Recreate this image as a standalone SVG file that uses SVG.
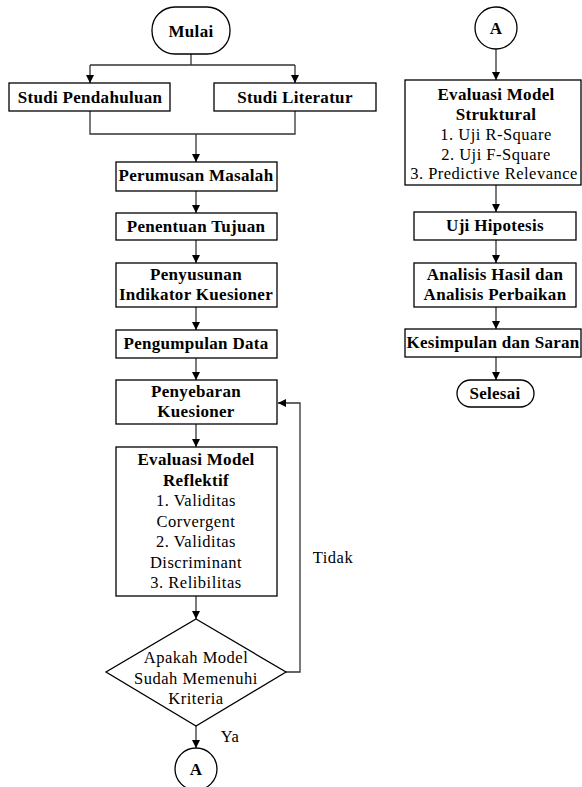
<svg xmlns="http://www.w3.org/2000/svg" width="582" height="787" viewBox="0 0 582 787">
<style>
.box{fill:#fff;stroke:#000;stroke-width:1.3}
.ln{fill:none;stroke:#333;stroke-width:1.3}
text{font-family:'Liberation Serif','Times New Roman',Times,'DejaVu Serif',serif;text-anchor:middle;fill:#000}
.b{font-weight:bold;font-size:17px;letter-spacing:0.3px}
.r{font-weight:normal;font-size:16.5px;letter-spacing:0.5px}
</style>
<defs>
<marker id="ah" viewBox="0 0 10 10" refX="10" refY="5" markerWidth="8" markerHeight="9" markerUnits="userSpaceOnUse" orient="auto">
<path d="M0,0 L10,5 L0,10 z" fill="#000"/>
</marker>
</defs>
<rect width="582" height="787" fill="#fff"/>
<g id="connectors">
<path class="ln" d="M191,54 V65 M90,65 H295" />
<path class="ln" d="M90,65 V83" marker-end="url(#ah)"/>
<path class="ln" d="M295,65 V83" marker-end="url(#ah)"/>
<path class="ln" d="M90,111 V134 H295 V111"/>
<path class="ln" d="M196,134 V162" marker-end="url(#ah)"/>
<path class="ln" d="M196,191 V213" marker-end="url(#ah)"/>
<path class="ln" d="M196,240 V263" marker-end="url(#ah)"/>
<path class="ln" d="M196,307 V330" marker-end="url(#ah)"/>
<path class="ln" d="M196,358 V380" marker-end="url(#ah)"/>
<path class="ln" d="M196,424 V447" marker-end="url(#ah)"/>
<path class="ln" d="M196,596 V619" marker-end="url(#ah)"/>
<path class="ln" d="M286,672 H300 V403 H278" marker-end="url(#ah)"/>
<path class="ln" d="M196,726 V748" marker-end="url(#ah)"/>
<path class="ln" d="M496,49 V80" marker-end="url(#ah)"/>
<path class="ln" d="M496,185 V212" marker-end="url(#ah)"/>
<path class="ln" d="M496,240 V263" marker-end="url(#ah)"/>
<path class="ln" d="M496,307 V329" marker-end="url(#ah)"/>
<path class="ln" d="M496,357 V380" marker-end="url(#ah)"/>
<text class="r" x="333" y="563">Tidak</text>
<text class="r" x="230" y="742">Ya</text>
</g>
<g id="mulai"><rect class="box" x="152" y="7" width="78" height="47" rx="23"/><text class="b" x="191" y="37">Mulai</text></g>
<g id="studi-pendahuluan"><rect class="box" x="9" y="83" width="161" height="28"/><text class="b" x="90" y="103">Studi Pendahuluan</text></g>
<g id="studi-literatur"><rect class="box" x="214" y="83" width="162" height="28"/><text class="b" x="295" y="103">Studi Literatur</text></g>
<g id="perumusan"><rect class="box" x="116" y="162" width="161" height="29"/><text class="b" x="196" y="181">Perumusan Masalah</text></g>
<g id="penentuan"><rect class="box" x="116" y="213" width="161" height="27"/><text class="b" x="196" y="232">Penentuan Tujuan</text></g>
<g id="penyusunan"><rect class="box" x="116" y="263" width="161" height="44"/><text class="b" x="196" y="280">Penyusunan</text><text class="b" x="196" y="300">Indikator Kuesioner</text></g>
<g id="pengumpulan"><rect class="box" x="116" y="330" width="161" height="28"/><text class="b" x="196" y="349">Pengumpulan Data</text></g>
<g id="penyebaran"><rect class="box" x="116" y="380" width="161" height="44"/><text class="b" x="196" y="397">Penyebaran</text><text class="b" x="196" y="417">Kuesioner</text></g>
<g id="evaluasi-reflektif"><rect class="box" x="116" y="447" width="161" height="149"/>
<text class="b" x="196" y="465">Evaluasi Model</text><text class="b" x="196" y="486">Reflektif</text>
<text class="r" x="196" y="506">1. Validitas</text><text class="r" x="196" y="527">Corvergent</text>
<text class="r" x="196" y="547">2. Validitas</text><text class="r" x="196" y="568">Discriminant</text>
<text class="r" x="196" y="588">3. Relibilitas</text></g>
<g id="keputusan"><path class="box" d="M196,619 L286,672 L196,726 L106,672 Z"/>
<text class="r" x="196" y="663">Apakah Model</text><text class="r" x="196" y="684">Sudah Memenuhi</text><text class="r" x="196" y="704">Kriteria</text></g>
<g id="a-bawah"><circle class="box" cx="196" cy="769" r="21"/><text class="b" x="196" y="775">A</text></g>
<g id="a-atas"><circle class="box" cx="496" cy="28" r="21"/><text class="b" x="496" y="34">A</text></g>
<g id="evaluasi-struktural"><rect class="box" x="405" y="80" width="176" height="105"/>
<text class="b" x="496" y="100">Evaluasi Model</text><text class="b" x="496" y="120">Struktural</text>
<text class="r" x="496" y="140">1. Uji R-Square</text><text class="r" x="496" y="160">2. Uji F-Square</text>
<text class="r" x="494" y="179">3. Predictive Relevance</text></g>
<g id="uji-hipotesis"><rect class="box" x="414" y="212" width="162" height="28"/><text class="b" x="495" y="231">Uji Hipotesis</text></g>
<g id="analisis"><rect class="box" x="414" y="263" width="162" height="44"/><text class="b" x="495" y="280">Analisis Hasil dan</text><text class="b" x="495" y="300">Analisis Perbaikan</text></g>
<g id="kesimpulan"><rect class="box" x="405" y="329" width="176" height="28"/><text class="b" x="493" y="348">Kesimpulan dan Saran</text></g>
<g id="selesai"><rect class="box" x="457" y="380" width="77" height="27" rx="13.5"/><text class="b" x="495" y="399">Selesai</text></g>
</svg>
